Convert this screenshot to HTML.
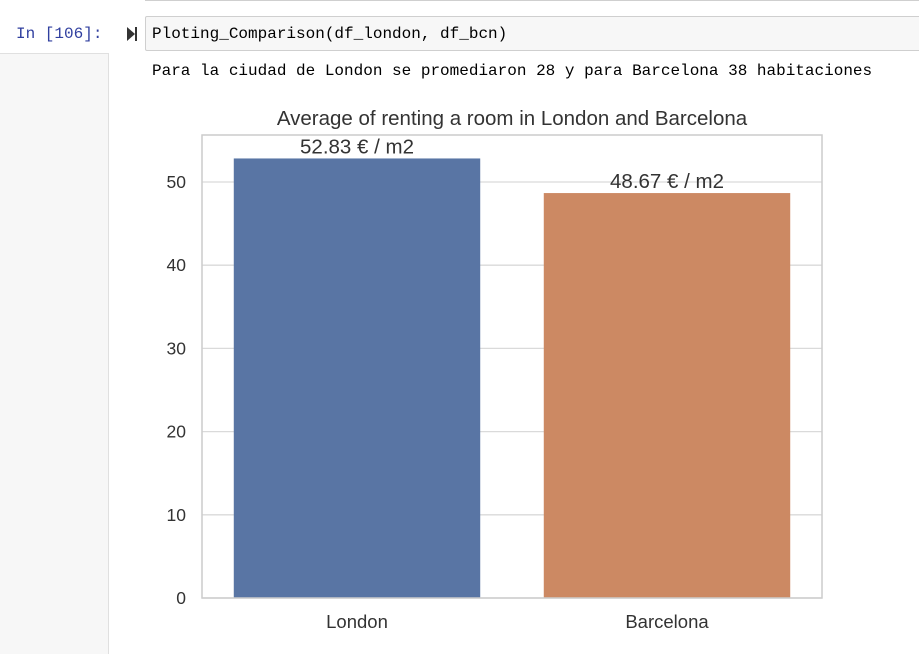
<!DOCTYPE html>
<html><head><meta charset="utf-8"><style>
body{margin:0;width:919px;height:645px;background:#fff;position:relative;overflow:hidden;font-family:"Liberation Sans",sans-serif}
.mono{font-family:"Liberation Mono","DejaVu Sans Mono",monospace;font-size:16px}
</style></head><body>
<div style="position:absolute;left:145px;top:0;width:774px;height:1px;background:#cfcfcf"></div>
<div class="mono" style="position:absolute;left:16px;top:25px;color:#303f9f">In [106]:</div>
<div style="position:absolute;left:127px;top:27px;width:0;height:0;border-left:8px solid #333;border-top:7px solid transparent;border-bottom:7px solid transparent"></div>
<div style="position:absolute;left:135px;top:27px;width:2px;height:14px;background:#333"></div>
<div class="mono" style="position:absolute;left:145px;top:16px;width:780px;height:35px;background:#f7f7f7;border:1px solid #cfcfcf;border-radius:2px;box-sizing:border-box;padding:8px 6px;line-height:18px;color:#000">Ploting_Comparison(df_london, df_bcn)</div>
<div style="position:absolute;left:0;top:53px;width:108px;height:600px;background:#f7f7f7;border-right:1px solid #e0e0e0;border-top:1px solid #e0e0e0"></div>
<div class="mono" style="position:absolute;left:152px;top:62px;color:#000">Para la ciudad de London se promediaron 28 y para Barcelona 38 habitaciones</div>
<svg id="chart" width="919" height="645" style="position:absolute;left:0;top:0" font-family="Liberation Sans, sans-serif"></svg>
<script>
const categories=["London","Barcelona"];
const values=[52.83,48.67];
const labels=["52.83 € / m2","48.67 € / m2"];
const ticks=[0,10,20,30,40,50];
const colors=["#5975a4","#cc8963"];
const svg=document.getElementById('chart');const NS='http://www.w3.org/2000/svg';
const L=202,R=822,T=135,B=598;
const y=v=>B-v*(B-182)/50;
const x=i=>L+(i+0.5)*(R-L)/categories.length;
function mk(t,a,txt){const e=document.createElementNS(NS,t);for(const k in a)e.setAttribute(k,a[k]);if(txt!==undefined)e.textContent=txt;svg.appendChild(e);return e;}
ticks.forEach(t=>{
const g=mk('line',{x1:L,x2:R,y1:y(t),y2:y(t),stroke:'#dadada','stroke-width':1.3});


const l=mk('text',{x:186,y:y(t)+6,'text-anchor':'end','font-size':17.5,fill:'#333'},t);


});
const bw=(R-L)/categories.length*0.795;
categories.forEach((c,i)=>{
const b=mk('rect',{x:x(i)-bw/2,y:y(values[i]),width:bw,height:B-y(values[i]),fill:colors[i]});


const v=mk('text',{x:x(i),y:y(values[i])-5,'text-anchor':'middle','font-size':20.5,fill:'#333'},labels[i]);


const xl=mk('text',{x:x(i),y:628,'text-anchor':'middle','font-size':18.5,fill:'#333'},c);


});
const f=mk('rect',{x:L,y:T,width:R-L,height:B-T,fill:'none',stroke:'#cccccc','stroke-width':1.5});


const ti=mk('text',{x:(L+R)/2,y:125,'text-anchor':'middle','font-size':20.5,fill:'#333'},'Average of renting a room in London and Barcelona');


</script>
</body></html>
